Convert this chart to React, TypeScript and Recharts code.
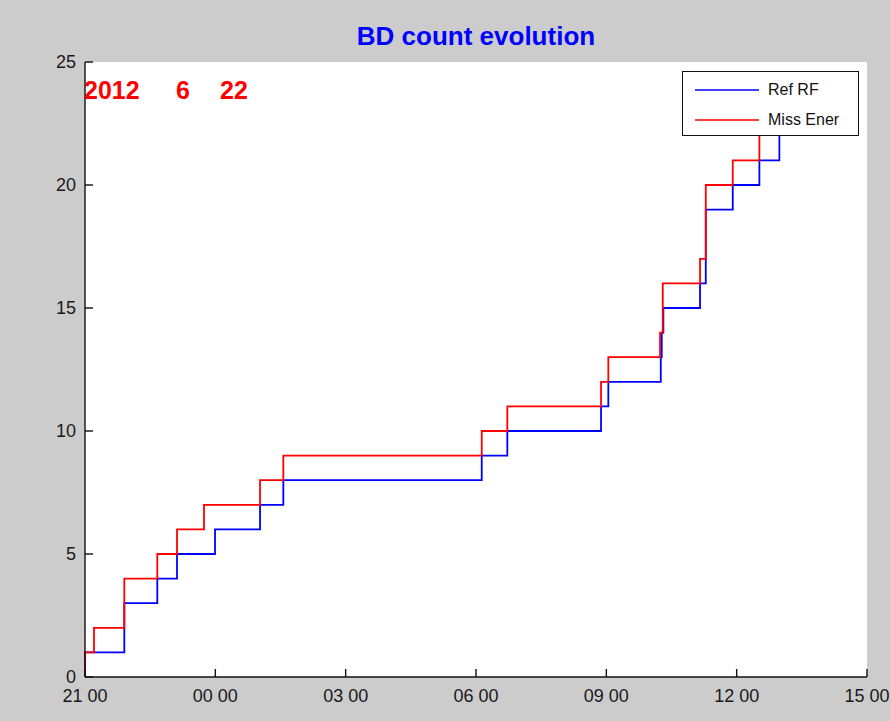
import React from 'react';
import { LineChart, Line, XAxis, YAxis, CartesianGrid } from 'recharts';

// hours elapsed since 21:00 on the start day, and the cumulative count at each step
const refTimes = [0, 0, 0.905, 1.664, 2.118, 2.993, 4.029, 4.565, 9.132, 9.721, 11.878, 12.046, 13.253, 13.276, 13.313, 14.157, 14.289, 14.91, 15.523, 15.983];
const refCounts = [0, 1, 3, 4, 5, 6, 7, 8, 9, 10, 11, 12, 13, 14, 15, 16, 19, 20, 21, 22];

const missTimes = [0, 0, 0.207, 0.905, 1.664, 2.118, 2.739, 4.029, 4.565, 9.132, 9.721, 11.878, 12.046, 13.237, 13.299, 14.157, 14.289, 14.91, 15.523];
const missCounts = [0, 1, 2, 4, 5, 6, 7, 8, 9, 10, 11, 12, 13, 14, 16, 17, 20, 21, 22];

const xTicks = [0, 3, 6, 9, 12, 15, 18];
const xTickLabels = ['21 00', '00 00', '03 00', '06 00', '09 00', '12 00', '15 00'];
const yTicks = [0, 5, 10, 15, 20, 25];

const seriesNames = ['Ref RF', 'Miss Ener'];
const seriesColors = ['#0000ff', '#ff0000'];
const dateParts = ['2012', '6', '22'];

const refData = refTimes.map((t, i) => ({ t, n: refCounts[i] }));
const missData = missTimes.map((t, i) => ({ t, n: missCounts[i] }));

const W = 890;
const H = 721;
const FONT = '"Liberation Sans", Arial, Helvetica, sans-serif';
const AXIS = '#111111';

export default function App() {
  return (
    <div style={{ position: 'absolute', left: 0, top: 0, width: W, height: H, background: '#cccccc', fontFamily: FONT }}>
      <div style={{ position: 'absolute', left: 85, width: 782, top: 21, textAlign: 'center', color: '#0000ff', fontWeight: 'bold', fontSize: 26 }}>
        BD count evolution
      </div>

      <LineChart width={W} height={H} margin={{ top: 62, right: 23, bottom: 14, left: 45 }}>
        <CartesianGrid fill="#ffffff" horizontal={false} vertical={false} />
        <XAxis
          xAxisId="b"
          dataKey="t"
          type="number"
          domain={[0, 18]}
          ticks={xTicks}
          height={30}
          tickSize={-8}
          tickMargin={20}
          tickFormatter={(v: number) => xTickLabels[xTicks.indexOf(v)]}
          stroke={AXIS}
          strokeWidth={1.4}
          tick={{ fill: '#1a1a1a', fontSize: 18, fontFamily: FONT }}
        />
        <XAxis
          xAxisId="top"
          orientation="top"
          dataKey="t"
          type="number"
          domain={[0, 18]}
          ticks={xTicks}
          height={0}
          tickSize={-8}
          tickFormatter={() => ''}
          stroke={AXIS}
          strokeWidth={1.4}
        />
        <YAxis
          yAxisId="l"
          type="number"
          domain={[0, 25]}
          ticks={yTicks}
          width={40}
          tickSize={-8}
          tickMargin={17}
          stroke={AXIS}
          strokeWidth={1.4}
          tick={{ fill: '#1a1a1a', fontSize: 18, fontFamily: FONT }}
        />
        <YAxis
          yAxisId="r"
          orientation="right"
          type="number"
          domain={[0, 25]}
          ticks={yTicks}
          width={0}
          tickSize={-8}
          tickFormatter={() => ''}
          stroke={AXIS}
          strokeWidth={1.4}
        />
        <Line
          xAxisId="b"
          yAxisId="l"
          data={refData}
          dataKey="n"
          name={seriesNames[0]}
          type="stepAfter"
          stroke={seriesColors[0]}
          strokeWidth={1.8}
          dot={false}
          isAnimationActive={false}
        />
        <Line
          xAxisId="b"
          yAxisId="l"
          data={missData}
          dataKey="n"
          name={seriesNames[1]}
          type="stepAfter"
          stroke={seriesColors[1]}
          strokeWidth={1.8}
          dot={false}
          isAnimationActive={false}
        />
      </LineChart>

      {/* date stamp in the upper-left corner of the axes */}
      {dateParts.map((s, i) => (
        <div
          key={s + i}
          style={{ position: 'absolute', top: 76, left: [84, 176, 220][i], color: '#ff0000', fontWeight: 'bold', fontSize: 25 }}
        >
          {s}
        </div>
      ))}

      {/* legend box */}
      <div style={{ position: 'absolute', left: 682, top: 71, width: 177, height: 65, background: '#ffffff', border: '1px solid #111', boxSizing: 'border-box' }}>
        {seriesNames.map((name, i) => (
          <div key={name} style={{ position: 'absolute', left: 12, top: 9 + i * 30, height: 18, display: 'flex', alignItems: 'center' }}>
            <svg width={66} height={18}>
              <line x1={0} y1={9} x2={64} y2={9} stroke={seriesColors[i]} strokeWidth={1.5} />
            </svg>
            <span style={{ marginLeft: 7, fontSize: 16, color: '#111' }}>{name}</span>
          </div>
        ))}
      </div>
    </div>
  );
}
